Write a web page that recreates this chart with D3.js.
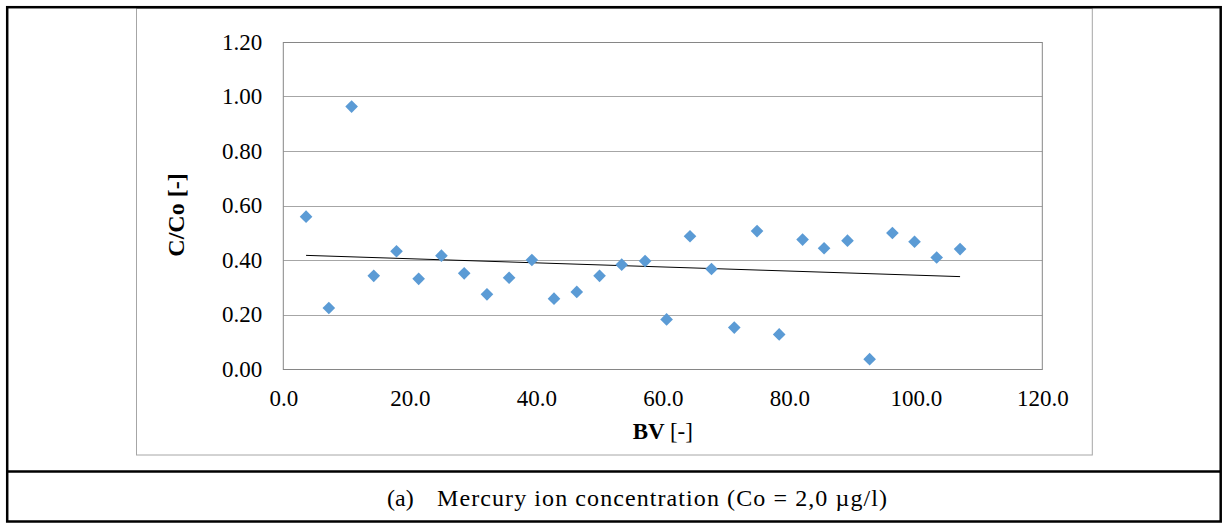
<!DOCTYPE html>
<html>
<head>
<meta charset="utf-8">
<script src="https://cdn.jsdelivr.net/npm/d3@7"></script>
<style>
  body { margin: 0; background: #fff; }
</style>
</head>
<body>
<div id="chart"></div>
<script>
// bed volumes and relative concentration
const BV = [3.6, 7.2, 10.8, 14.3, 17.9, 21.4, 25.0, 28.6, 32.2, 35.7,
            39.3, 42.8, 46.4, 50.0, 53.5, 57.2, 60.6, 64.3, 67.7, 71.3,
            74.9, 78.4, 82.1, 85.5, 89.2, 92.7, 96.3, 99.8, 103.3, 107.0]
const C_CO = [0.559, 0.224, 0.963, 0.342, 0.432, 0.331, 0.416, 0.351, 0.274, 0.335,
              0.400, 0.258, 0.283, 0.342, 0.383, 0.396, 0.182, 0.487, 0.367, 0.152,
              0.506, 0.127, 0.475, 0.443, 0.471, 0.036, 0.499, 0.467, 0.409, 0.440]
// linear trend line end points
const TREND_X = [3.6, 107.0]
const TREND_Y = [0.417, 0.339]

const X_TICKS = [0, 20, 40, 60, 80, 100, 120]
const Y_TICKS = [0, 0.2, 0.4, 0.6, 0.8, 1.0, 1.2]
const CAPTION_TAG = "(a)"
const CAPTION = "Mercury ion concentration (Co = 2,0 \u00b5g/l)"

const FONT = '"Liberation Serif", "Times New Roman", serif'
const W = 1222, H = 525
const plot = { left: 283.3, right: 1042.3, top: 42, bottom: 369 }

const svg = d3.select("#chart").append("svg")
    .attr("width", W)
    .attr("height", H)
    .attr("font-family", FONT)

// chart area (excel frame)
svg.append("rect")
    .attr("x", 136.5).attr("y", 8.5)
    .attr("width", 1092.3 - 136.5).attr("height", 455 - 8.5)
    .attr("fill", "#fff")
    .attr("stroke", "#a6a6a6")
    .attr("stroke-width", 1)

const x = d3.scaleLinear().domain([0, 120]).range([plot.left, plot.right])
const y = d3.scaleLinear().domain([0, 1.2]).range([plot.bottom, plot.top])

// gridlines
svg.append("g").selectAll("line")
    .data(Y_TICKS)
    .enter().append("line")
    .attr("x1", plot.left).attr("x2", plot.right)
    .attr("y1", d => Math.round(y(d)) + 0.5)
    .attr("y2", d => Math.round(y(d)) + 0.5)
    .attr("stroke", "#a6a6a6")
    .attr("stroke-width", 1)

// plot border
svg.append("rect")
    .attr("x", plot.left).attr("y", plot.top + 0.5)
    .attr("width", plot.right - plot.left).attr("height", plot.bottom - plot.top)
    .attr("fill", "none")
    .attr("stroke", "#868686")
    .attr("stroke-width", 1)

// y axis labels
const yAxis = d3.axisLeft(y).tickValues(Y_TICKS).tickFormat(d3.format(".2f")).tickSize(0).tickPadding(21)
svg.append("g")
    .attr("transform", "translate(" + plot.left + ",0)")
    .call(yAxis)
    .attr("font-family", FONT)
    .attr("font-size", 23)
    .call(g => g.select(".domain").remove())
    .selectAll("text")
    .attr("fill", "#000")

// x axis labels
const xAxis = d3.axisBottom(x).tickValues(X_TICKS).tickFormat(d3.format(".1f")).tickSize(0).tickPadding(21)
svg.append("g")
    .attr("transform", "translate(0," + plot.bottom + ")")
    .call(xAxis)
    .attr("font-family", FONT)
    .attr("font-size", 23)
    .call(g => g.select(".domain").remove())
    .selectAll("text")
    .attr("fill", "#000")

// trend line
const line = d3.line().x(d => x(d[0])).y(d => y(d[1]))
svg.append("path")
    .datum(d3.zip(TREND_X, TREND_Y))
    .attr("d", line)
    .attr("fill", "none")
    .attr("stroke", "#000")
    .attr("stroke-width", 1)

// data points
const diamond = d3.symbol().type(d3.symbolSquare).size(80)
svg.append("g").selectAll("path")
    .data(d3.zip(BV, C_CO))
    .enter().append("path")
    .attr("d", diamond)
    .attr("transform", d => "translate(" + x(d[0]) + "," + y(d[1]) + ") rotate(45)")
    .attr("fill", "#5b9bd5")

// axis titles
svg.append("text")
    .attr("transform", "translate(184,215) rotate(-90)")
    .attr("text-anchor", "middle")
    .attr("font-size", 24)
    .attr("font-weight", "bold")
    .text("C/Co [-]")

const xt = svg.append("text")
    .attr("x", (plot.left + plot.right) / 2)
    .attr("y", 439)
    .attr("text-anchor", "middle")
    .attr("font-size", 23)
xt.append("tspan").attr("font-weight", "bold").text("BV ")
xt.append("tspan").text("[-]")

// table frame
svg.append("rect")
    .attr("x", 7.2).attr("y", 7.2)
    .attr("width", 1220.7 - 7.2).attr("height", 521.5 - 7.2)
    .attr("fill", "none")
    .attr("stroke", "#000")
    .attr("stroke-width", 2.5)
svg.append("line")
    .attr("x1", 7).attr("x2", 1221)
    .attr("y1", 471.5).attr("y2", 471.5)
    .attr("stroke", "#000")
    .attr("stroke-width", 2.5)

// caption
svg.append("text")
    .attr("x", 387)
    .attr("y", 506)
    .attr("font-size", 24)
    .attr("fill", "#000")
    .text(CAPTION_TAG)
svg.append("text")
    .attr("x", 437)
    .attr("y", 506)
    .attr("font-size", 24)
    .attr("fill", "#000")
    .attr("textLength", 450)
    .attr("lengthAdjust", "spacing")
    .text(CAPTION)
</script>
</body>
</html>
